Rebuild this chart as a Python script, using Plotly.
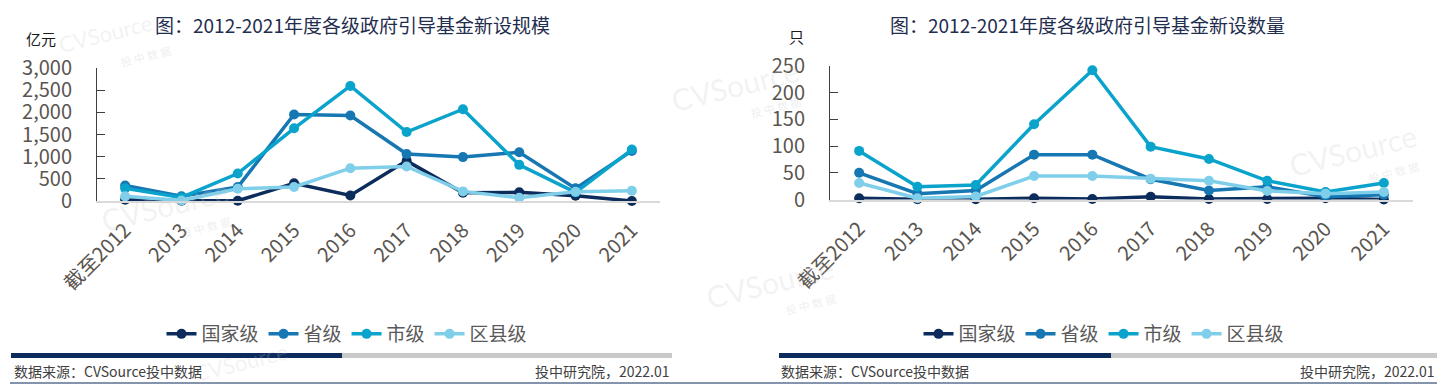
import plotly.graph_objects as go

categories = ["截至2012", "2013", "2014", "2015", "2016", "2017", "2018", "2019", "2020", "2021"]
series_names = ["国家级", "省级", "市级", "区县级"]

# 新设规模（亿元）
scale_national = [30, 5, 5, 400, 125, 905, 185, 195, 120, 0]
scale_province = [350, 105, 315, 1950, 1930, 1060, 990, 1100, 285, 1130]
scale_city = [285, 80, 620, 1640, 2595, 1555, 2070, 815, 195, 1160]
scale_county = [105, 10, 277, 315, 740, 778, 217, 75, 210, 232]

# 新设数量（只）
count_national = [2.5, 0.5, 0.5, 2.5, 1, 5, 1, 1, 2.5, 0]
count_province = [50, 11, 17, 84, 84, 38, 17, 24, 5, 9]
count_city = [91, 24, 27, 141, 242, 99, 76, 35, 14, 31]
count_county = [31, 2.5, 5.6, 44, 44, 39, 35, 16, 11, 14]

left_ticks = [0, 500, 1000, 1500, 2000, 2500, 3000]
right_ticks = [0, 50, 100, 150, 200, 250]

title_left = "图：2012-2021年度各级政府引导基金新设规模"
title_right = "图：2012-2021年度各级政府引导基金新设数量"
source_text = "数据来源：CVSource投中数据"
credit_text = "投中研究院，2022.01"

colors = ["#0c2c5c", "#1677b3", "#0aa3cb", "#80cfea"]
FONT = "Noto Sans CJK SC"
OFF = 8  # page body margin
W, H = 1445 - OFF, 387 - OFF

def px(x):
    return (x - OFF) / W

def py(y):
    return 1 - (y - OFF) / H

fig = go.Figure()

left_series = [scale_national, scale_province, scale_city, scale_county]
right_series = [count_national, count_province, count_city, count_county]

for name, vals, c in zip(series_names, left_series, colors):
    fig.add_trace(go.Scatter(
        x=categories, y=vals, name=name, mode="lines+markers",
        line=dict(color=c, width=3.5), marker=dict(color=c, size=10),
        xaxis="x", yaxis="y", legend="legend", cliponaxis=False,
    ))
for name, vals, c in zip(series_names, right_series, colors):
    fig.add_trace(go.Scatter(
        x=categories, y=vals, name=name, mode="lines+markers",
        line=dict(color=c, width=3.5), marker=dict(color=c, size=10),
        xaxis="x2", yaxis="y2", legend="legend2", cliponaxis=False,
    ))

tick_font = dict(family=FONT, size=20, color="#5a5550")

common_x = dict(
    type="category", showline=True, linecolor="#d9d9d9", linewidth=1.5,
    showgrid=False, zeroline=False, ticks="", tickangle=-45,
    tickfont=tick_font, range=[-0.5, 9.5], automargin=False,
    ticklabelstandoff=8,
)
common_y = dict(
    showline=True, linecolor="#404040", linewidth=1, showgrid=False,
    zeroline=False, ticks="inside", ticklen=8, tickcolor="#404040",
    tickfont=tick_font, ticklabelstandoff=20, automargin=False,
)

legend_font = dict(family=FONT, size=19, color="#595959")

fig.update_layout(
    width=W, height=H,
    margin=dict(l=0, r=0, t=0, b=0, autoexpand=False),
    paper_bgcolor="white", plot_bgcolor="rgba(0,0,0,0)",
    font=dict(family=FONT),
    xaxis=dict(domain=[px(97), px(660)], anchor="y", **common_x),
    yaxis=dict(domain=[py(201), py(68)], anchor="x", range=[0, 3000],
               tickvals=left_ticks, tickformat=",d", **common_y),
    xaxis2=dict(domain=[px(830), px(1413)], anchor="y2", **common_x),
    yaxis2=dict(domain=[py(199.5), py(66)], anchor="x2", range=[0, 250],
                tickvals=right_ticks, **common_y),
    legend=dict(orientation="h", x=px(347), xanchor="center", y=py(334), yanchor="middle",
                font=legend_font, bgcolor="rgba(0,0,0,0)"),
    legend2=dict(orientation="h", x=px(1104), xanchor="center", y=py(334), yanchor="middle",
                 font=legend_font, bgcolor="rgba(0,0,0,0)"),
)

annotations = []
# watermarks (faint)
wm = [(105, 34, 22, True), (735, 85, 30, True), (165, 205, 30, True),
      (770, 282, 30, True), (1353, 150, 30, True), (240, 362, 22, False)]
for (x, y, s, sub) in wm:
    annotations.append(dict(x=px(x), y=py(y), xref="paper", yref="paper", text="CVSource",
                            showarrow=False, textangle=-14, xanchor="center", yanchor="middle",
                            font=dict(family="Lato", size=s, color="rgba(200,200,200,0.22)")))
    if sub:
        annotations.append(dict(x=px(x + 40), y=py(y + 22), xref="paper", yref="paper", text="投 中 数 据",
                                showarrow=False, textangle=-14, xanchor="center", yanchor="middle",
                                font=dict(family=FONT, size=11, color="rgba(200,200,200,0.3)")))

def ann(x, y, text, size, color, xanchor):
    return dict(x=px(x), y=py(y), xref="paper", yref="paper", text=text, showarrow=False,
                font=dict(family=FONT, size=size, color=color), xanchor=xanchor, yanchor="middle")

annotations += [
    ann(352, 25, title_left, 19, "#1f2d4e", "center"),
    ann(1087, 25, title_right, 19, "#1f2d4e", "center"),
    ann(41, 38, "亿元", 15, "#1a1a1a", "center"),
    ann(796, 37, "只", 15, "#1a1a1a", "center"),
    ann(12, 371, source_text, 14, "#404040", "left"),
    ann(672, 371, credit_text, 14, "#404040", "right"),
    ann(779, 371, source_text, 14, "#404040", "left"),
    ann(1437, 371, credit_text, 14, "#404040", "right"),
]

def rect(x0, x1, y0, y1, color):
    return dict(type="rect", xref="paper", yref="paper", x0=px(x0), x1=px(x1),
                y0=py(y1), y1=py(y0), fillcolor=color, line=dict(width=0))

shapes = [
    rect(11, 342, 353, 358, "#0c2a5c"),
    rect(342, 672, 353, 358, "#c9c9c9"),
    rect(779, 1111, 353, 358, "#0c2a5c"),
    rect(1111, 1445, 353, 358, "#c9c9c9"),
    dict(type="line", xref="paper", yref="paper", x0=px(10), x1=px(1445), y0=py(383), y1=py(383),
         line=dict(color="#5a7090", width=1.5)),
]

fig.update_layout(annotations=annotations, shapes=shapes)
fig.write_html("out.html")
